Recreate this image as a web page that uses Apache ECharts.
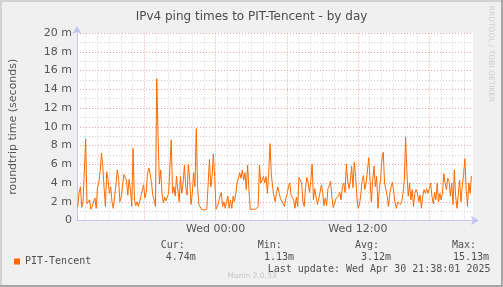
<!DOCTYPE html>
<html><head><meta charset="utf-8">
<script src="https://cdn.jsdelivr.net/npm/echarts@6/dist/echarts.min.js"></script>
<style>html,body{margin:0;padding:0;background:#f0f0f0;}#c{width:503px;height:287px;}</style>
</head><body><div id="c"></div>
<script>
// ---- data ----
const chartTitle = 'IPv4 ping times to PIT-Tencent - by day';
const seriesName = 'PIT-Tencent';
const yAxisName = 'roundtrip time (seconds)';
// hours relative to Wed 00:00, sample step = 400 s
const startHour = -11.636;
const stepHour = 1 / 9;
const pingMs = [
  1.5, 2.9, 3.6, 1.4, 2.0, 1.9, 8.7, 1.8, 2.0, 2.2,
  1.2, 1.5, 1.7, 2.4, 1.3, 3.5, 4.0, 5.2, 7.2, 5.8,
  3.5, 1.5, 5.2, 4.4, 2.9, 3.6, 2.0, 1.3, 1.3, 3.8,
  5.4, 4.5, 2.0, 2.5, 3.6, 4.9, 4.6, 4.3, 2.7, 4.4,
  3.3, 1.5, 7.7, 2.3, 1.6, 2.0, 1.5, 1.3, 2.6, 3.2,
  3.8, 2.4, 3.0, 5.0, 5.6, 5.0, 4.0, 2.7, 2.2, 1.5,
  15.13, 9.0, 3.9, 5.4, 2.8, 1.9, 2.5, 2.1, 2.5, 2.9,
  5.8, 8.6, 2.9, 3.6, 2.6, 4.7, 4.7, 2.0, 4.7, 2.9,
  4.0, 5.9, 3.6, 2.7, 6.0, 4.3, 1.7, 2.9, 5.1, 3.6,
  9.8, 3.6, 1.7, 1.85, 1.2, 1.2, 1.13, 1.2, 1.2, 1.2,
  6.5, 3.6, 4.7, 7.1, 4.7, 1.2, 1.5, 2.0, 2.6, 3.0,
  1.5, 2.0, 1.3, 2.0, 2.6, 1.3, 2.2, 1.3, 2.6, 2.0,
  2.9, 4.0, 4.2, 5.1, 4.5, 5.4, 4.3, 5.1, 3.3, 5.9,
  3.3, 1.2, 1.2, 1.2, 1.2, 1.2, 1.3, 1.5, 5.9, 4.0,
  4.3, 4.7, 4.0, 4.7, 2.9, 5.0, 8.2, 5.0, 3.5, 2.6,
  2.0, 3.0, 3.6, 2.9, 2.3, 2.3,
  1.8, 1.5, 2.4, 2.8, 3.6, 4.0, 2.7, 2.9, 2.2, 1.3,
  2.5, 1.5, 4.6, 4.4, 4.0, 2.0, 1.5, 3.5, 4.6, 4.0,
  3.0, 4.3, 6.0, 2.2, 3.4, 2.5, 1.7, 2.3, 3.0, 3.8,
  3.0, 1.6, 2.4, 1.6, 3.4, 3.7, 4.2, 2.5, 1.4, 1.5,
  2.3, 2.5, 2.6, 3.0, 2.2, 3.6, 4.0, 3.0, 6.0, 4.3,
  3.4, 4.2, 5.8, 3.5, 6.2, 4.7, 2.5, 1.3, 1.7, 2.9,
  4.3, 4.8, 3.3, 4.0, 4.0, 6.7, 4.3, 2.0, 4.3, 5.8,
  3.6, 4.7, 1.3, 3.3, 4.5, 6.5, 7.3, 4.0, 3.3, 2.6,
  1.5, 2.9, 3.6, 4.1, 4.0, 1.9, 1.3, 2.0, 2.0, 1.7,
  2.0, 2.9, 4.3, 8.9, 5.0, 2.6, 4.0, 2.2, 3.3, 1.5,
  2.9, 3.3, 2.9, 2.0, 2.7, 1.3, 2.6, 3.3, 2.9, 3.4,
  2.9, 3.4, 4.0, 2.6, 1.8, 3.0, 2.2, 4.0, 2.0, 2.9,
  2.2, 2.9, 5.0, 4.0, 3.3, 4.5, 4.2, 2.6, 4.0, 1.7,
  5.4, 2.6, 1.3, 1.5, 4.3, 2.0, 3.6, 4.9, 6.6, 3.3,
  1.5, 4.0, 2.9, 4.74
];
const xLabelValues = [0, 12];
const xLabelTexts = ['Wed 00:00', 'Wed 12:00'];
const majorHours = [-6, 0, 6, 12, 18];
const statHeads = ['Cur:', 'Min:', 'Avg:', 'Max:'];
const statValues = ['4.74m', '1.13m', '3.12m', '15.13m'];
const lastUpdate = 'Last update: Wed Apr 30 21:38:01 2025';
const muninVersion = 'Munin 2.0.33';
const rrdCredit = 'RRDTOOL / TOBI OETIKER';

// ---- build ----
const xMin = -11.7, xMax = -11.7 + 401 / 12;
const lineData = pingMs.map((v, i) => [startHour + i * stepHour, v]);
const minorHours = [];
for (let h = -11; h <= 21; h++) if (majorHours.indexOf(h) < 0) minorHours.push(h);

const mono = '"DejaVu Sans Mono", monospace';
const sans = '"DejaVu Sans", sans-serif';
const headX = [160.7, 257.7, 355, 452];
const valX = [165.7, 264, 361, 453];
const graphics = [
  {type:'rect', shape:{x:0,y:0,width:503,height:2}, style:{fill:'#d2d2d2'}},
  {type:'rect', shape:{x:0,y:0,width:2,height:287}, style:{fill:'#d2d2d2'}},
  {type:'rect', shape:{x:501,y:0,width:2,height:287}, style:{fill:'#a6a6a6'}},
  {type:'rect', shape:{x:0,y:285,width:503,height:2}, style:{fill:'#a6a6a6'}},
  {type:'text', x:491, y:54, rotation:-Math.PI/2, style:{text:rrdCredit, align:'center', verticalAlign:'middle', fontSize:7.5, fontFamily:sans, fill:'#cdcdcd'}},
  {type:'text', x:252, y:276.5, style:{text:muninVersion, align:'center', verticalAlign:'middle', fontSize:7.5, fontFamily:sans, fill:'#c4c4c4'}},
  {type:'text', x:267.7, y:269.5, style:{text:lastUpdate, align:'left', verticalAlign:'middle', fontSize:10, fontFamily:mono, fill:'#505050'}}
];
statHeads.forEach((t, i) => graphics.push({type:'text', x:headX[i], y:245.3, style:{text:t, align:'left', verticalAlign:'middle', fontSize:10, fontFamily:mono, fill:'#505050'}}));
statValues.forEach((t, i) => graphics.push({type:'text', x:valX[i], y:257.2, style:{text:t, align:'left', verticalAlign:'middle', fontSize:10, fontFamily:mono, fill:'#505050'}}));

const chart = echarts.init(document.getElementById('c'), null, {renderer:'canvas'});
chart.setOption({
  animation:false,
  backgroundColor:'#f0f0f0',
  title:{text:chartTitle, left:'center', top:6, textStyle:{fontFamily:sans, fontSize:12, fontWeight:'normal', color:'#4c4c4c'}},
  legend:{data:[seriesName], left:9, top:251.5, icon:'rect', itemWidth:6, itemHeight:6, selectedMode:false,
    textStyle:{fontFamily:mono, fontSize:10, color:'#505050'}},
  grid:{left:72, right:30, top:33, height:187.5, show:true, backgroundColor:'#ffffff', borderWidth:0},
  xAxis:{type:'value', min:xMin, max:xMax,
    axisLine:{show:true, onZero:false, lineStyle:{color:'#c4c4f2', width:1}, symbol:['none','arrow'], symbolSize:[7,8], symbolOffset:[0,6]},
    axisTick:{show:false}, splitLine:{show:false},
    axisLabel:{customValues:xLabelValues, formatter:v => xLabelTexts[xLabelValues.indexOf(Math.round(v))] || '', color:'#555555', fontFamily:sans, fontSize:11, margin:3}},
  yAxis:{type:'value', min:0, max:20, interval:2, name:yAxisName, nameLocation:'middle', nameGap:58,
    nameTextStyle:{color:'#555555', fontSize:11, fontFamily:sans},
    axisLine:{show:true, onZero:false, lineStyle:{color:'#c4c4f2', width:1}, symbol:['none','arrow'], symbolSize:[7,8], symbolOffset:[0,7]},
    axisTick:{show:false},
    axisLabel:{color:'#555555', fontSize:11, fontFamily:sans, margin:5, formatter:v => v === 0 ? '0' : v + ' m'},
    splitLine:{show:true, lineStyle:{color:'#e8a2a2', type:[1,2], width:1}},
    minorTick:{show:false, splitNumber:2},
    minorSplitLine:{show:true, lineStyle:{color:'#cfcfcf', type:[1,2], width:1}}},
  series:[
    {type:'line', name:'minorgrid', data:[], z:1, silent:true,
      markLine:{silent:true, symbol:['none','none'], label:{show:false}, animation:false,
        lineStyle:{color:'#cfcfcf', type:[1,2], width:1}, data:minorHours.map(h => ({xAxis:h}))}},
    {type:'line', name:'majorgrid', data:[], z:2, silent:true,
      markLine:{silent:true, symbol:['none','none'], label:{show:false}, animation:false,
        lineStyle:{color:'#e8a2a2', type:[1,2], width:1}, data:majorHours.map(h => ({xAxis:h}))}},
    {type:'line', name:seriesName, data:lineData, z:5, showSymbol:false, symbol:'none',
      lineStyle:{color:'#ff6a00', width:1}, itemStyle:{color:'#ff6a00'}}
  ],
  graphic:graphics
});
</script></body></html>
